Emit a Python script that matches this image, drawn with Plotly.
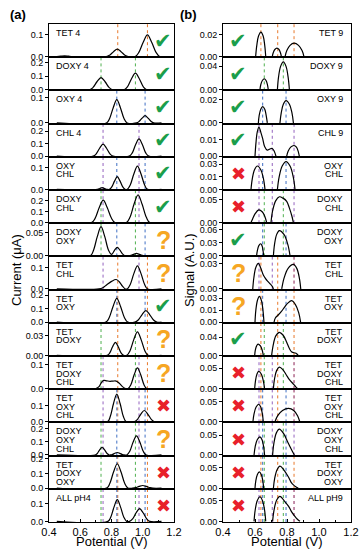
import plotly.graph_objects as go

# ---------------- panel (a): pH 4, current (uA) ----------------
a_labels = [["TET 4"], ["DOXY 4"], ["OXY 4"], ["CHL 4"], ["OXY", "CHL"], ["DOXY", "CHL"],
            ["DOXY", "OXY"], ["TET", "CHL"], ["TET", "OXY"], ["TET", "DOXY"],
            ["TET", "DOXY", "CHL"], ["TET", "OXY", "CHL"], ["DOXY", "OXY", "CHL"],
            ["TET", "DOXY", "OXY"], ["ALL pH4"]]
a_components = [["TET"], ["DOXY"], ["OXY"], ["CHL"], ["OXY", "CHL"], ["DOXY", "CHL"],
                ["DOXY", "OXY"], ["TET", "CHL"], ["TET", "OXY"], ["TET", "DOXY"],
                ["TET", "DOXY", "CHL"], ["TET", "OXY", "CHL"], ["DOXY", "OXY", "CHL"],
                ["TET", "DOXY", "OXY"], ["TET", "DOXY", "OXY", "CHL"]]
a_marks = ["ok", "ok", "ok", "ok", "ok", "ok", "q", "q", "ok", "q", "q", "x", "q", "x", "x"]
a_ymax = [0.15, 0.24, 0.13, 0.26, 0.15, 0.30, 0.07, 0.155, 0.24, 0.05, 0.135, 0.20, 0.25, 0.22, 0.185]
a_tickvals = [[0, 0.1], [0, 0.1, 0.2], [0, 0.1], [0, 0.1, 0.2], [0, 0.1], [0, 0.1, 0.2],
              [0, 0.05], [0, 0.1], [0, 0.1, 0.2], [0, 0.03], [0, 0.1], [0, 0.1],
              [0, 0.1, 0.2], [0, 0.1, 0.2], [0, 0.1]]
a_ticktext = [["0.0", "0.1"], ["0.0", "0.1", "0.2"], ["0.0", "0.1"], ["0.0", "0.1", "0.2"],
              ["0.0", "0.1"], ["0.0", "0.1", "0.2"], ["0.00", "0.05"], ["0.0", "0.1"],
              ["0.0", "0.1", "0.2"], ["0.00", "0.03"], ["0.0", "0.1"], ["0.0", "0.1"],
              ["0.0", "0.1", "0.2"], ["0.0", "0.1", "0.2"], ["0.0", "0.1"]]
a_peak_lines = {"TET": [0.84, 1.03], "DOXY": [0.733, 0.953], "OXY": [0.834, 1.015], "CHL": [0.746, 0.976]}

a_tet4_x = [0.45, 0.475, 0.50, 0.525, 0.55, 0.767, 0.788, 0.813, 0.837, 0.861, 0.886, 0.907, 0.952, 0.975, 1.003, 1.03, 1.057, 1.085, 1.108, 1.12]
a_tet4_y = [0, 0.0015, 0.003, 0.0015, 0, 0, 0.0065, 0.0224, 0.034, 0.0224, 0.0065, 0, 0, 0.019, 0.066, 0.100, 0.066, 0.019, 0, 0]
a_doxy4_x = [0.45, 0.660, 0.682, 0.707, 0.733, 0.759, 0.784, 0.806, 0.881, 0.903, 0.928, 0.953, 0.978, 1.003, 1.025, 1.12]
a_doxy4_y = [0, 0, 0.017, 0.059, 0.090, 0.059, 0.017, 0, 0, 0.023, 0.081, 0.122, 0.081, 0.023, 0, 0]
a_oxy4_x = [0.45, 0.768, 0.788, 0.811, 0.834, 0.857, 0.880, 0.900, 0.960, 0.976, 0.996, 1.015, 1.034, 1.054, 1.070, 1.12]
a_oxy4_y = [0, 0, 0.018, 0.061, 0.093, 0.061, 0.018, 0, 0, 0.0055, 0.019, 0.029, 0.019, 0.0055, 0, 0]
a_chl4_x = [0.45, 0.683, 0.702, 0.724, 0.746, 0.768, 0.790, 0.809, 0.914, 0.933, 0.954, 0.976, 0.998, 1.019, 1.038, 1.12]
a_chl4_y = [0, 0, 0.018, 0.063, 0.096, 0.063, 0.018, 0, 0, 0.026, 0.091, 0.138, 0.091, 0.026, 0, 0]
a_oxy_chl_x = [0.45, 0.710, 0.725, 0.740, 0.755, 0.772, 0.787, 0.802, 0.820, 0.837, 0.854, 0.872, 0.887, 0.901, 0.920, 0.943, 0.966, 0.989, 1.012, 1.031, 1.12]
a_oxy_chl_y = [0, 0, 0.004, 0.008, 0.004, 0, 0, 0.011, 0.039, 0.059, 0.039, 0.011, 0, 0, 0.020, 0.071, 0.107, 0.071, 0.020, 0, 0]
a_doxy_chl_x = [0.45, 0.672, 0.695, 0.721, 0.747, 0.773, 0.800, 0.822, 0.895, 0.918, 0.944, 0.970, 0.996, 1.023, 1.045, 1.12]
a_doxy_chl_y = [0, 0, 0.039, 0.136, 0.206, 0.136, 0.039, 0, 0, 0.048, 0.168, 0.255, 0.168, 0.048, 0, 0]
a_doxy_oxy_x = [0.45, 0.665, 0.685, 0.709, 0.733, 0.757, 0.781, 0.801, 0.820, 0.837, 0.854, 0.872, 0.887, 0.910, 0.925, 0.945, 0.960, 0.975, 0.995, 1.010, 1.12]
a_doxy_oxy_y = [0, 0, 0.012, 0.041, 0.0625, 0.041, 0.012, 0.003, 0.012, 0.018, 0.012, 0.0034, 0, 0, 0.001, 0.0035, 0.005, 0.0035, 0.001, 0, 0]
a_tet_chl_x = [0.45, 0.720, 0.745, 0.770, 0.800, 0.830, 0.852, 0.870, 0.888, 0.901, 0.920, 0.943, 0.966, 0.989, 1.012, 1.031, 1.12]
a_tet_chl_y = [0, 0, 0.006, 0.020, 0.036, 0.045, 0.032, 0.013, 0, 0, 0.021, 0.073, 0.110, 0.073, 0.021, 0, 0]
a_tet_oxy_x = [0.45, 0.764, 0.785, 0.810, 0.834, 0.858, 0.883, 0.904, 0.950, 0.971, 0.996, 1.020, 1.044, 1.069, 1.090, 1.12]
a_tet_oxy_y = [0, 0, 0.033, 0.116, 0.176, 0.116, 0.033, 0, 0, 0.016, 0.056, 0.085, 0.056, 0.016, 0, 0]
a_tet_doxy_x = [0.45, 0.773, 0.789, 0.807, 0.825, 0.843, 0.861, 0.877, 0.898, 0.918, 0.942, 0.966, 0.990, 1.014, 1.034, 1.12]
a_tet_doxy_y = [0, 0, 0.0038, 0.0132, 0.020, 0.0132, 0.0038, 0, 0, 0.0068, 0.0238, 0.036, 0.0238, 0.0068, 0, 0]
a_tet_doxy_chl_x = [0.45, 0.700, 0.720, 0.735, 0.750, 0.770, 0.790, 0.810, 0.830, 0.850, 0.870, 0.890, 0.906, 0.924, 0.945, 0.966, 0.987, 1.008, 1.026, 1.12]
a_tet_doxy_chl_y = [0, 0, 0.008, 0.025, 0.034, 0.032, 0.030, 0.031, 0.031, 0.022, 0.008, 0, 0, 0.016, 0.057, 0.086, 0.057, 0.016, 0, 0]
a_tet_oxy_chl_x = [0.45, 0.774, 0.792, 0.813, 0.834, 0.855, 0.876, 0.894, 0.945, 0.965, 0.987, 1.010, 1.033, 1.056, 1.075, 1.12]
a_tet_oxy_chl_y = [0, 0, 0.032, 0.112, 0.170, 0.112, 0.032, 0, 0, 0.013, 0.046, 0.069, 0.046, 0.013, 0, 0]
a_doxy_oxy_chl_x = [0.45, 0.695, 0.709, 0.724, 0.740, 0.756, 0.772, 0.785, 0.792, 0.806, 0.821, 0.837, 0.853, 0.869, 0.882, 0.898, 0.917, 0.938, 0.960, 0.982, 1.003, 1.022, 1.12]
a_doxy_oxy_chl_y = [0, 0, 0.011, 0.039, 0.059, 0.039, 0.011, 0, 0, 0.0036, 0.0125, 0.019, 0.0125, 0.0036, 0, 0, 0.028, 0.097, 0.147, 0.097, 0.028, 0, 0]
a_tet_doxy_oxy_x = [0.45, 0.769, 0.789, 0.813, 0.837, 0.861, 0.885, 0.905, 0.935, 0.955, 0.977, 1.000, 1.023, 1.046, 1.065, 1.12]
a_tet_doxy_oxy_y = [0, 0, 0.031, 0.109, 0.165, 0.109, 0.031, 0, 0, 0.0034, 0.0119, 0.018, 0.0119, 0.0034, 0, 0]
a_all_x = [0.45, 0.777, 0.795, 0.816, 0.837, 0.858, 0.879, 0.897, 0.915, 0.935, 0.957, 0.980, 1.003, 1.026, 1.045, 1.12]
a_all_y = [0, 0, 0.023, 0.081, 0.123, 0.081, 0.023, 0, 0, 0.0137, 0.0475, 0.072, 0.0475, 0.0137, 0, 0]

# ---------------- panel (b): pH 9, signal (A.U.) ----------------
b_labels = [["TET 9"], ["DOXY 9"], ["OXY 9"], ["CHL 9"], ["OXY", "CHL"], ["DOXY", "CHL"],
            ["DOXY", "OXY"], ["TET", "CHL"], ["TET", "OXY"], ["TET", "DOXY"],
            ["TET", "DOXY", "CHL"], ["TET", "OXY", "CHL"], ["DOXY", "OXY", "CHL"],
            ["TET", "DOXY", "OXY"], ["ALL pH9"]]
b_components = a_components
b_marks = ["ok", "ok", "ok", "ok", "x", "x", "ok", "q", "q", "ok", "x", "x", "x", "x", "x"]
b_ymax = [0.03, 0.055, 0.028, 0.0196, 0.039, 0.072, 0.075, 0.0383, 0.041, 0.072, 0.08, 0.08, 0.082, 0.08, 0.078]
b_tickvals = [[0, 0.02], [0, 0.04], [0, 0.02], [0, 0.01], [0, 0.015, 0.03], [0, 0.05],
              [0, 0.03, 0.06], [0, 0.03], [0, 0.015, 0.03], [0, 0.04], [0, 0.05], [0, 0.05],
              [0, 0.05], [0, 0.05], [0, 0.05]]
b_ticktext = [["0.00", "0.02"], ["0.00", "0.04"], ["0.00", "0.02"], ["0.00", "0.01"],
              ["0.00", "0.01", "0.03"], ["0.00", "0.05"], ["0.00", "0.03", "0.06"],
              ["0.00", "0.03"], ["0.00", "0.01", "0.03"], ["0.00", "0.04"], ["0.00", "0.05"],
              ["0.00", "0.05"], ["0.00", "0.05"], ["0.00", "0.05"], ["0.00", "0.05"]]
b_peak_lines = {"TET": [0.637, 0.742, 0.844], "DOXY": [0.658, 0.777], "OXY": [0.648, 0.794], "CHL": [0.625, 0.708, 0.844]}

b_tet9_x = [0.604, 0.611, 0.622, 0.637, 0.651, 0.661, 0.667, None, 0.708, 0.714, 0.724, 0.737, 0.750, 0.759, 0.765, None, 0.788, 0.799, 0.819, 0.844, 0.872, 0.894, 0.906]
b_tet9_y = [0, 0.0101, 0.0189, 0.0225, 0.0189, 0.0101, 0, None, 0, 0.0035, 0.0065, 0.0077, 0.0065, 0.0035, 0, None, 0, 0.0055, 0.0103, 0.0123, 0.0103, 0.0055, 0]
b_doxy9_x = [0.631, 0.636, 0.646, 0.658, 0.669, 0.678, 0.683, None, 0.740, 0.747, 0.760, 0.777, 0.794, 0.807, 0.815]
b_doxy9_y = [0, 0.0084, 0.0156, 0.0186, 0.0156, 0.0084, 0, None, 0, 0.0212, 0.0395, 0.047, 0.0395, 0.0212, 0]
b_oxy9_x = [0.621, 0.626, 0.636, 0.648, 0.661, 0.670, 0.677, None, 0.756, 0.764, 0.777, 0.794, 0.815, 0.831, 0.840]
b_oxy9_y = [0, 0.0063, 0.0118, 0.0141, 0.0118, 0.0063, 0, None, 0, 0.0086, 0.0161, 0.0192, 0.0161, 0.0086, 0]
b_chl9_x = [0.600, 0.606, 0.614, 0.625, 0.636, 0.648, 0.660, 0.677, 0.693, 0.708, 0.721, 0.731, None, 0.798, 0.807, 0.823, 0.844, 0.859, 0.870, 0.877]
b_chl9_y = [0, 0.008, 0.0145, 0.0175, 0.0145, 0.0105, 0.0058, 0.0036, 0.0043, 0.0046, 0.0028, 0, None, 0, 0.0029, 0.0054, 0.0064, 0.0054, 0.0029, 0]
b_oxy_chl_x = [0.575, 0.583, 0.597, 0.615, 0.636, 0.653, 0.6625, None, 0.740, 0.751, 0.770, 0.794, 0.819, 0.839, 0.850]
b_oxy_chl_y = [0, 0.0126, 0.0235, 0.028, 0.0235, 0.0126, 0, None, 0, 0.0149, 0.0279, 0.0332, 0.0279, 0.0149, 0]
b_doxy_chl_x = [0.575, 0.585, 0.600, 0.623, 0.645, 0.662, 0.673, None, 0.700, 0.710, 0.729, 0.752, 0.775, 0.798, 0.815, 0.830, 0.840]
b_doxy_chl_y = [0, 0.008, 0.019, 0.028, 0.024, 0.013, 0, None, 0, 0.0257, 0.0479, 0.057, 0.054, 0.047, 0.032, 0.015, 0]
b_doxy_oxy_x = [0.610, 0.615, 0.624, 0.635, 0.644, 0.650, 0.654, None, 0.715, 0.722, 0.735, 0.752, 0.782, 0.805, 0.819]
b_doxy_oxy_y = [0, 0.0125, 0.0233, 0.0277, 0.0233, 0.0125, 0, None, 0, 0.0261, 0.0487, 0.058, 0.0487, 0.0261, 0]
b_tet_chl_x = [0.586, 0.593, 0.605, 0.621, 0.635, 0.652, 0.665, 0.677, 0.698, 0.708, 0.715, None, 0.767, 0.782, 0.807, 0.840, 0.861, 0.877, 0.886]
b_tet_chl_y = [0, 0.0135, 0.0252, 0.030, 0.025, 0.0164, 0.0125, 0.0095, 0.0053, 0.003, 0, None, 0, 0.013, 0.0242, 0.0288, 0.0242, 0.013, 0]
b_tet_oxy_x = [0.600, 0.605, 0.615, 0.627, 0.640, 0.650, 0.656, None, 0.719, 0.728, 0.745, 0.765, 0.785, 0.805, 0.830, 0.851, 0.873, 0.885]
b_tet_oxy_y = [0, 0.0146, 0.0273, 0.0325, 0.0273, 0.0146, 0, None, 0, 0.0055, 0.009, 0.0135, 0.019, 0.024, 0.027, 0.0227, 0.012, 0]
b_tet_doxy_x = [0.598, 0.602, 0.610, 0.619, 0.634, 0.645, 0.652, None, 0.704, 0.714, 0.730, 0.752, 0.775, 0.798, 0.815, 0.830, 0.856, 0.870]
b_tet_doxy_y = [0, 0.0113, 0.021, 0.025, 0.021, 0.0113, 0, None, 0, 0.023, 0.043, 0.051, 0.045, 0.029, 0.015, 0.0075, 0.0045, 0]
b_tet_doxy_chl_x = [0.598, 0.603, 0.612, 0.623, 0.640, 0.652, 0.660, None, 0.715, 0.722, 0.735, 0.752, 0.775, 0.795, 0.815, 0.840, 0.855, 0.865]
b_tet_doxy_chl_y = [0, 0.019, 0.0353, 0.042, 0.0353, 0.019, 0, None, 0, 0.0236, 0.0441, 0.0525, 0.046, 0.034, 0.022, 0.011, 0.004, 0]
b_tet_oxy_chl_x = [0.587, 0.594, 0.607, 0.623, 0.636, 0.646, 0.652, None, 0.725, 0.742, 0.772, 0.810, 0.842, 0.866, 0.880]
b_tet_oxy_chl_y = [0, 0.0194, 0.0361, 0.043, 0.0361, 0.0194, 0, None, 0, 0.0149, 0.0277, 0.033, 0.0277, 0.0149, 0]
b_doxy_oxy_chl_x = [0.594, 0.601, 0.614, 0.631, 0.644, 0.654, 0.660, None, 0.710, 0.718, 0.733, 0.752, 0.780, 0.805, 0.830, 0.846]
b_doxy_oxy_chl_y = [0, 0.0206, 0.0384, 0.0457, 0.0384, 0.0206, 0, None, 0, 0.029, 0.055, 0.065, 0.053, 0.032, 0.012, 0]
b_tet_doxy_oxy_x = [0.600, 0.605, 0.615, 0.627, 0.639, 0.649, 0.654, None, 0.715, 0.723, 0.738, 0.756, 0.780, 0.808, 0.825, 0.840, 0.857, 0.870]
b_tet_doxy_oxy_y = [0, 0.018, 0.0336, 0.040, 0.0336, 0.018, 0, None, 0, 0.0243, 0.0454, 0.054, 0.045, 0.028, 0.015, 0.008, 0.003, 0]
b_all_x = [0.594, 0.601, 0.614, 0.631, 0.647, 0.660, 0.667, None, 0.710, 0.719, 0.735, 0.756, 0.785, 0.810, 0.830, 0.846, 0.865, 0.881]
b_all_y = [0, 0.0266, 0.0496, 0.059, 0.0496, 0.0266, 0, None, 0, 0.027, 0.0504, 0.060, 0.048, 0.036, 0.022, 0.0137, 0.005, 0]

x_tickvals = [0.4, 0.6, 0.8, 1.0, 1.2]
x_ticktext = ["0.4", "0.6", "0.8", "1.0", "1.2"]

a_curves = [(a_tet4_x, a_tet4_y), (a_doxy4_x, a_doxy4_y), (a_oxy4_x, a_oxy4_y), (a_chl4_x, a_chl4_y),
            (a_oxy_chl_x, a_oxy_chl_y), (a_doxy_chl_x, a_doxy_chl_y), (a_doxy_oxy_x, a_doxy_oxy_y),
            (a_tet_chl_x, a_tet_chl_y), (a_tet_oxy_x, a_tet_oxy_y), (a_tet_doxy_x, a_tet_doxy_y),
            (a_tet_doxy_chl_x, a_tet_doxy_chl_y), (a_tet_oxy_chl_x, a_tet_oxy_chl_y),
            (a_doxy_oxy_chl_x, a_doxy_oxy_chl_y), (a_tet_doxy_oxy_x, a_tet_doxy_oxy_y), (a_all_x, a_all_y)]
b_curves = [(b_tet9_x, b_tet9_y), (b_doxy9_x, b_doxy9_y), (b_oxy9_x, b_oxy9_y), (b_chl9_x, b_chl9_y),
            (b_oxy_chl_x, b_oxy_chl_y), (b_doxy_chl_x, b_doxy_chl_y), (b_doxy_oxy_x, b_doxy_oxy_y),
            (b_tet_chl_x, b_tet_chl_y), (b_tet_oxy_x, b_tet_oxy_y), (b_tet_doxy_x, b_tet_doxy_y),
            (b_tet_doxy_chl_x, b_tet_doxy_chl_y), (b_tet_oxy_chl_x, b_tet_oxy_chl_y),
            (b_doxy_oxy_chl_x, b_doxy_oxy_chl_y), (b_tet_doxy_oxy_x, b_tet_doxy_oxy_y), (b_all_x, b_all_y)]

# ---------------- styling / layout ----------------
W, H = 360, 550
FONT = "Arial, Liberation Sans, sans-serif"
LINE_COLORS = {"TET": "#e8792b", "DOXY": "#4fb04f", "OXY": "#3f6fc4", "CHL": "#9463bf"}
MARK_STYLE = {
    "ok": ("\u2714", "#1b9e4b", 21, "DejaVu Sans"),
    "x": ("\u2716", "#e8202a", 18, "DejaVu Sans"),
    "q": ("<b>?</b>", "#f6a623", 25, "Arial, Liberation Sans"),
}
TOP_PX, BOT_PX = 24, 522
N = 15
ROW_H = (BOT_PX - TOP_PX) / N
panels = [
    dict(curves=a_curves, labels=a_labels, comps=a_components, marks=a_marks, ymax=a_ymax,
         tv=a_tickvals, tt=a_ticktext, lines=a_peak_lines, x0=49, x1=174, label_side="left",
         mark_x=0.915, base=1),
    dict(curves=b_curves, labels=b_labels, comps=b_components, marks=b_marks, ymax=b_ymax,
         tv=b_tickvals, tt=b_ticktext, lines=b_peak_lines, x0=223, x1=351, label_side="right",
         mark_x=0.12, base=16),
]

fig = go.Figure()
layout = {}
shapes = []
annotations = []

for p in panels:
    for i in range(N):
        idx = p["base"] + i
        xs = "x" if idx == 1 else f"x{idx}"
        ys = "y" if idx == 1 else f"y{idx}"
        xk = "xaxis" if idx == 1 else f"xaxis{idx}"
        yk = "yaxis" if idx == 1 else f"yaxis{idx}"
        top = TOP_PX + i * ROW_H
        bot = top + ROW_H
        ydom = [1 - bot / H, 1 - top / H]
        last = (i == N - 1)
        xa = dict(domain=[p["x0"] / W, p["x1"] / W], anchor=ys, range=[0.4, 1.2], automargin=False,
                  showline=True, linecolor="black", linewidth=1, mirror=True,
                  showgrid=False, zeroline=False, tickvals=x_tickvals, ticktext=x_ticktext,
                  showticklabels=last, ticks="inside" if last else "", ticklen=3,
                  tickcolor="black", tickfont=dict(family=FONT, size=11, color="black"))
        if last:
            xa["minor"] = dict(ticks="inside", ticklen=2, dtick=0.1, tickcolor="black")
        layout[xk] = xa
        ym = p["ymax"][i]
        layout[yk] = dict(domain=ydom, anchor=xs, range=[-0.02 * ym, ym], automargin=False,
                          showline=True, linecolor="black", linewidth=1, mirror=True,
                          showgrid=False, zeroline=False, tickvals=p["tv"][i], ticktext=p["tt"][i],
                          ticks="outside", ticklen=3, tickcolor="black",
                          tickfont=dict(family=FONT, size=9, color="black"))
        cx, cy = p["curves"][i]
        fig.add_trace(go.Scatter(x=cx, y=cy, xaxis=xs, yaxis=ys, mode="lines",
                                 line=dict(color="black", width=1.2, shape="spline", smoothing=1.0),
                                 connectgaps=False, showlegend=False, hoverinfo="skip"))
        for comp in p["comps"][i]:
            for v in p["lines"][comp]:
                shapes.append(dict(type="line", xref=xs, yref=f"{ys} domain", x0=v, x1=v, y0=0, y1=1,
                                   line=dict(color=LINE_COLORS[comp], width=1, dash="dot"), layer="below"))
        for k, txt in enumerate(p["labels"][i]):
            ypx = top + 9 + 8.6 * k
            if p["label_side"] == "left":
                annotations.append(dict(text=txt, xref=f"{xs} domain", x=0.04, xanchor="left",
                                        yref="paper", y=1 - ypx / H, yanchor="middle", showarrow=False,
                                        font=dict(family=FONT, size=9, color="black")))
            else:
                annotations.append(dict(text=txt, xref=f"{xs} domain", x=0.955, xanchor="right",
                                        yref="paper", y=1 - ypx / H, yanchor="middle", showarrow=False,
                                        font=dict(family=FONT, size=9, color="black")))
        sym, col, size, fam = MARK_STYLE[p["marks"][i]]
        annotations.append(dict(text=sym, xref=f"{xs} domain", x=p["mark_x"], xanchor="center",
                                yref=f"{ys} domain", y=0.5, yanchor="middle", showarrow=False,
                                font=dict(family=fam, size=size, color=col)))

annotations += [
    dict(text="Current (\u03bcA)", xref="paper", yref="paper", x=16 / W, y=1 - 270 / H,
         xanchor="center", yanchor="middle",
         textangle=-90, showarrow=False, font=dict(family=FONT, size=13, color="black")),
    dict(text="Signal (A.U.)", xref="paper", yref="paper", x=189 / W, y=1 - 270 / H,
         xanchor="center", yanchor="middle",
         textangle=-90, showarrow=False, font=dict(family=FONT, size=13, color="black")),
    dict(text="Potential (V)", xref="paper", yref="paper", x=111.5 / W, y=1 - 541 / H,
         xanchor="center", yanchor="middle",
         showarrow=False, font=dict(family=FONT, size=13, color="black")),
    dict(text="Potential (V)", xref="paper", yref="paper", x=287 / W, y=1 - 541 / H,
         xanchor="center", yanchor="middle",
         showarrow=False, font=dict(family=FONT, size=13, color="black")),
    dict(text="<b>(a)</b>", xref="paper", yref="paper", x=18 / W, y=1 - 15 / H,
         xanchor="center", yanchor="middle",
         showarrow=False, font=dict(family=FONT, size=13, color="black")),
    dict(text="<b>(b)</b>", xref="paper", yref="paper", x=188 / W, y=1 - 15 / H,
         xanchor="center", yanchor="middle",
         showarrow=False, font=dict(family=FONT, size=13, color="black")),
]

fig.update_layout(width=W, height=H, margin=dict(l=0, r=0, t=0, b=0, autoexpand=False),
                  paper_bgcolor="white", plot_bgcolor="white",
                  shapes=shapes, annotations=annotations, showlegend=False, **layout)

fig.write_html("out.html", config={"displayModeBar": False, "staticPlot": True},
               post_script="document.body.style.margin='0';document.body.style.padding='0';"
                           "document.documentElement.style.margin='0';")
